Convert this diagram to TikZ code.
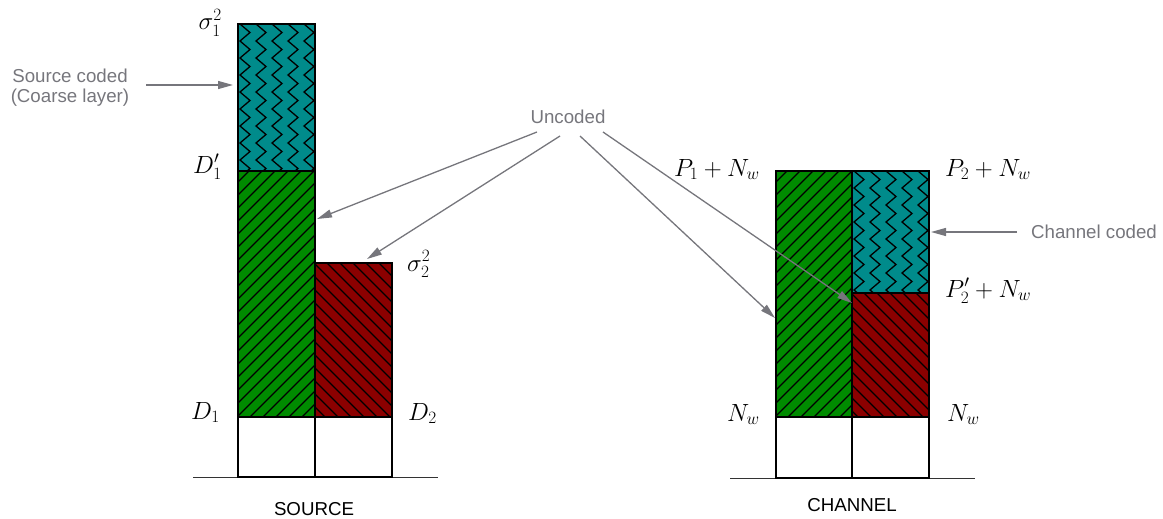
\documentclass[tikz,border=0pt]{standalone}
\usepackage{fontspec}
\newfontfamily\lab{Liberation Sans}
\usetikzlibrary{arrows.meta}
\definecolor{cteal}{RGB}{0,139,139}
\definecolor{cgreen}{RGB}{0,139,0}
\definecolor{cred}{RGB}{139,0,0}
\definecolor{cgray}{RGB}{118,118,124}
\tikzset{
  hatch/.style={black,line width=1.3pt},
  box/.style={draw=black,line width=1.8pt},
  ground/.style={draw=black!80,line width=0.8pt},
  ann/.style={draw=cgray,line width=1.3pt,-{Triangle[length=15pt,width=8pt]}},
  lbl/.style={font=\lab\fontsize{18.7}{20}\selectfont,text=cgray,inner sep=0pt},
  captxt/.style={font=\lab\fontsize{18.7}{20}\selectfont,text=black,inner sep=0pt},
  mth/.style={font=\fontsize{26}{30}\selectfont,inner sep=0pt},
}
% x1 y1 x2 y2 in pixel coords (y down)
\newcommand{\neHatch}[4]{%
  \begin{scope}
    \clip (#1,#2) rectangle (#3,#4);
    \foreach \k in {0,...,30} {\draw[hatch] ({#1-300+\k*13},#4) -- ++(400,-400);}
  \end{scope}}
\newcommand{\nwHatch}[4]{%
  \begin{scope}
    \clip (#1,#2) rectangle (#3,#4);
    \foreach \k in {0,...,30} {\draw[hatch] ({#1-300+\k*13},#2) -- ++(400,400);}
  \end{scope}}
\newcommand{\zzHatch}[5]{% #5 = number of half periods
  \begin{scope}
    \clip (#1,#2) rectangle (#3,#4);
    \foreach \j in {0,...,4} {
      \draw[hatch,line join=miter] ({#1+2+\j*16},#2)
        \foreach \i in {1,...,#5} { -- ({#1+2+\j*16+mod(\i,2)*10},{#2+\i*8.5}) };
    }
  \end{scope}}
\begin{document}
\begin{tikzpicture}[x=1pt,y=-1pt]
\useasboundingbox (0,0) rectangle (1163,519);
% ---------- SOURCE ----------
\fill[cteal] (238,24) rectangle (315,171);
\zzHatch{238}{24}{315}{171}{18}
\fill[cgreen] (238,171) rectangle (315,417);
\neHatch{238}{171}{315}{417}
\fill[cred] (315,263) rectangle (392,417);
\nwHatch{315}{263}{392}{417}
\draw[ground] (193,477) -- (438,477);
\draw[box] (238,24) rectangle (315,477);
\draw[box] (238,171) -- (315,171);
\draw[box] (315,263) rectangle (392,477);
\draw[box] (238,417) -- (392,417);
% ---------- CHANNEL ----------
\fill[cgreen] (776,171) rectangle (852,417);
\neHatch{776}{171}{852}{417}
\fill[cteal] (852,171) rectangle (929,293);
\zzHatch{852}{171}{929}{293}{15}
\fill[cred] (852,293) rectangle (929,417);
\nwHatch{852}{293}{929}{417}
\draw[ground] (730,478) -- (975,478);
\draw[box] (776,171) rectangle (929,478);
\draw[box] (852,171) -- (852,478);
\draw[box] (852,293) -- (929,293);
\draw[box] (776,417) -- (929,417);
% ---------- math labels ----------
\node[mth,anchor=base east] (s1) at (222,30) {$\sigma_1^2$};
\node[mth,anchor=base east] (d1p) at (222,173) {$D_1'$};
\node[mth,anchor=base east] (d1) at (220,419) {$D_1$};
\node[mth,anchor=base west] (s2) at (407,271) {$\sigma_2^2$};
\node[mth,anchor=base west] (d2) at (408,420) {$D_2$};
\node[mth,anchor=base east] (p1) at (760,176) {$P_1+N_w$};
\node[mth,anchor=base west] (p2) at (945,176) {$P_2+N_w$};
\node[mth,anchor=base west] (p2p) at (945,297) {$P_2'+N_w$};
\node[mth,anchor=base east] (nw1) at (760,421) {$N_w$};
\node[mth,anchor=base west] (nw2) at (947,421) {$N_w$};
% ---------- captions ----------
\node[captxt] (src) at (314,509) {SOURCE};
\node[captxt] (chn) at (852,505) {CHANNEL};
% ---------- annotations ----------
\node[lbl,align=center] (sc) at (70,88) {Source coded\\(Coarse layer)};
\node[lbl] (cc) at (1094,232) {Channel coded};
\node[lbl] (unc) at (568,117) {Uncoded};
\coordinate (scs) at (146,85);
\coordinate (sct) at (233,85);
\coordinate (ccs) at (1017,232);
\coordinate (cct) at (931,232);
\coordinate (u1) at (537,132);
\coordinate (u2) at (560,136);
\coordinate (u3) at (580,136);
\coordinate (u4) at (603,132);
\coordinate (t1) at (317,219);
\coordinate (t2) at (367,259);
\coordinate (t3) at (775,318);
\coordinate (t4) at (852,303);
\draw[ann] (scs) -- (sct);
\draw[ann] (ccs) -- (cct);
\draw[ann] (u1) -- (t1);
\draw[ann] (u2) -- (t2);
\draw[ann] (u3) -- (t3);
\draw[ann] (u4) -- (t4);
\end{tikzpicture}
\end{document}
